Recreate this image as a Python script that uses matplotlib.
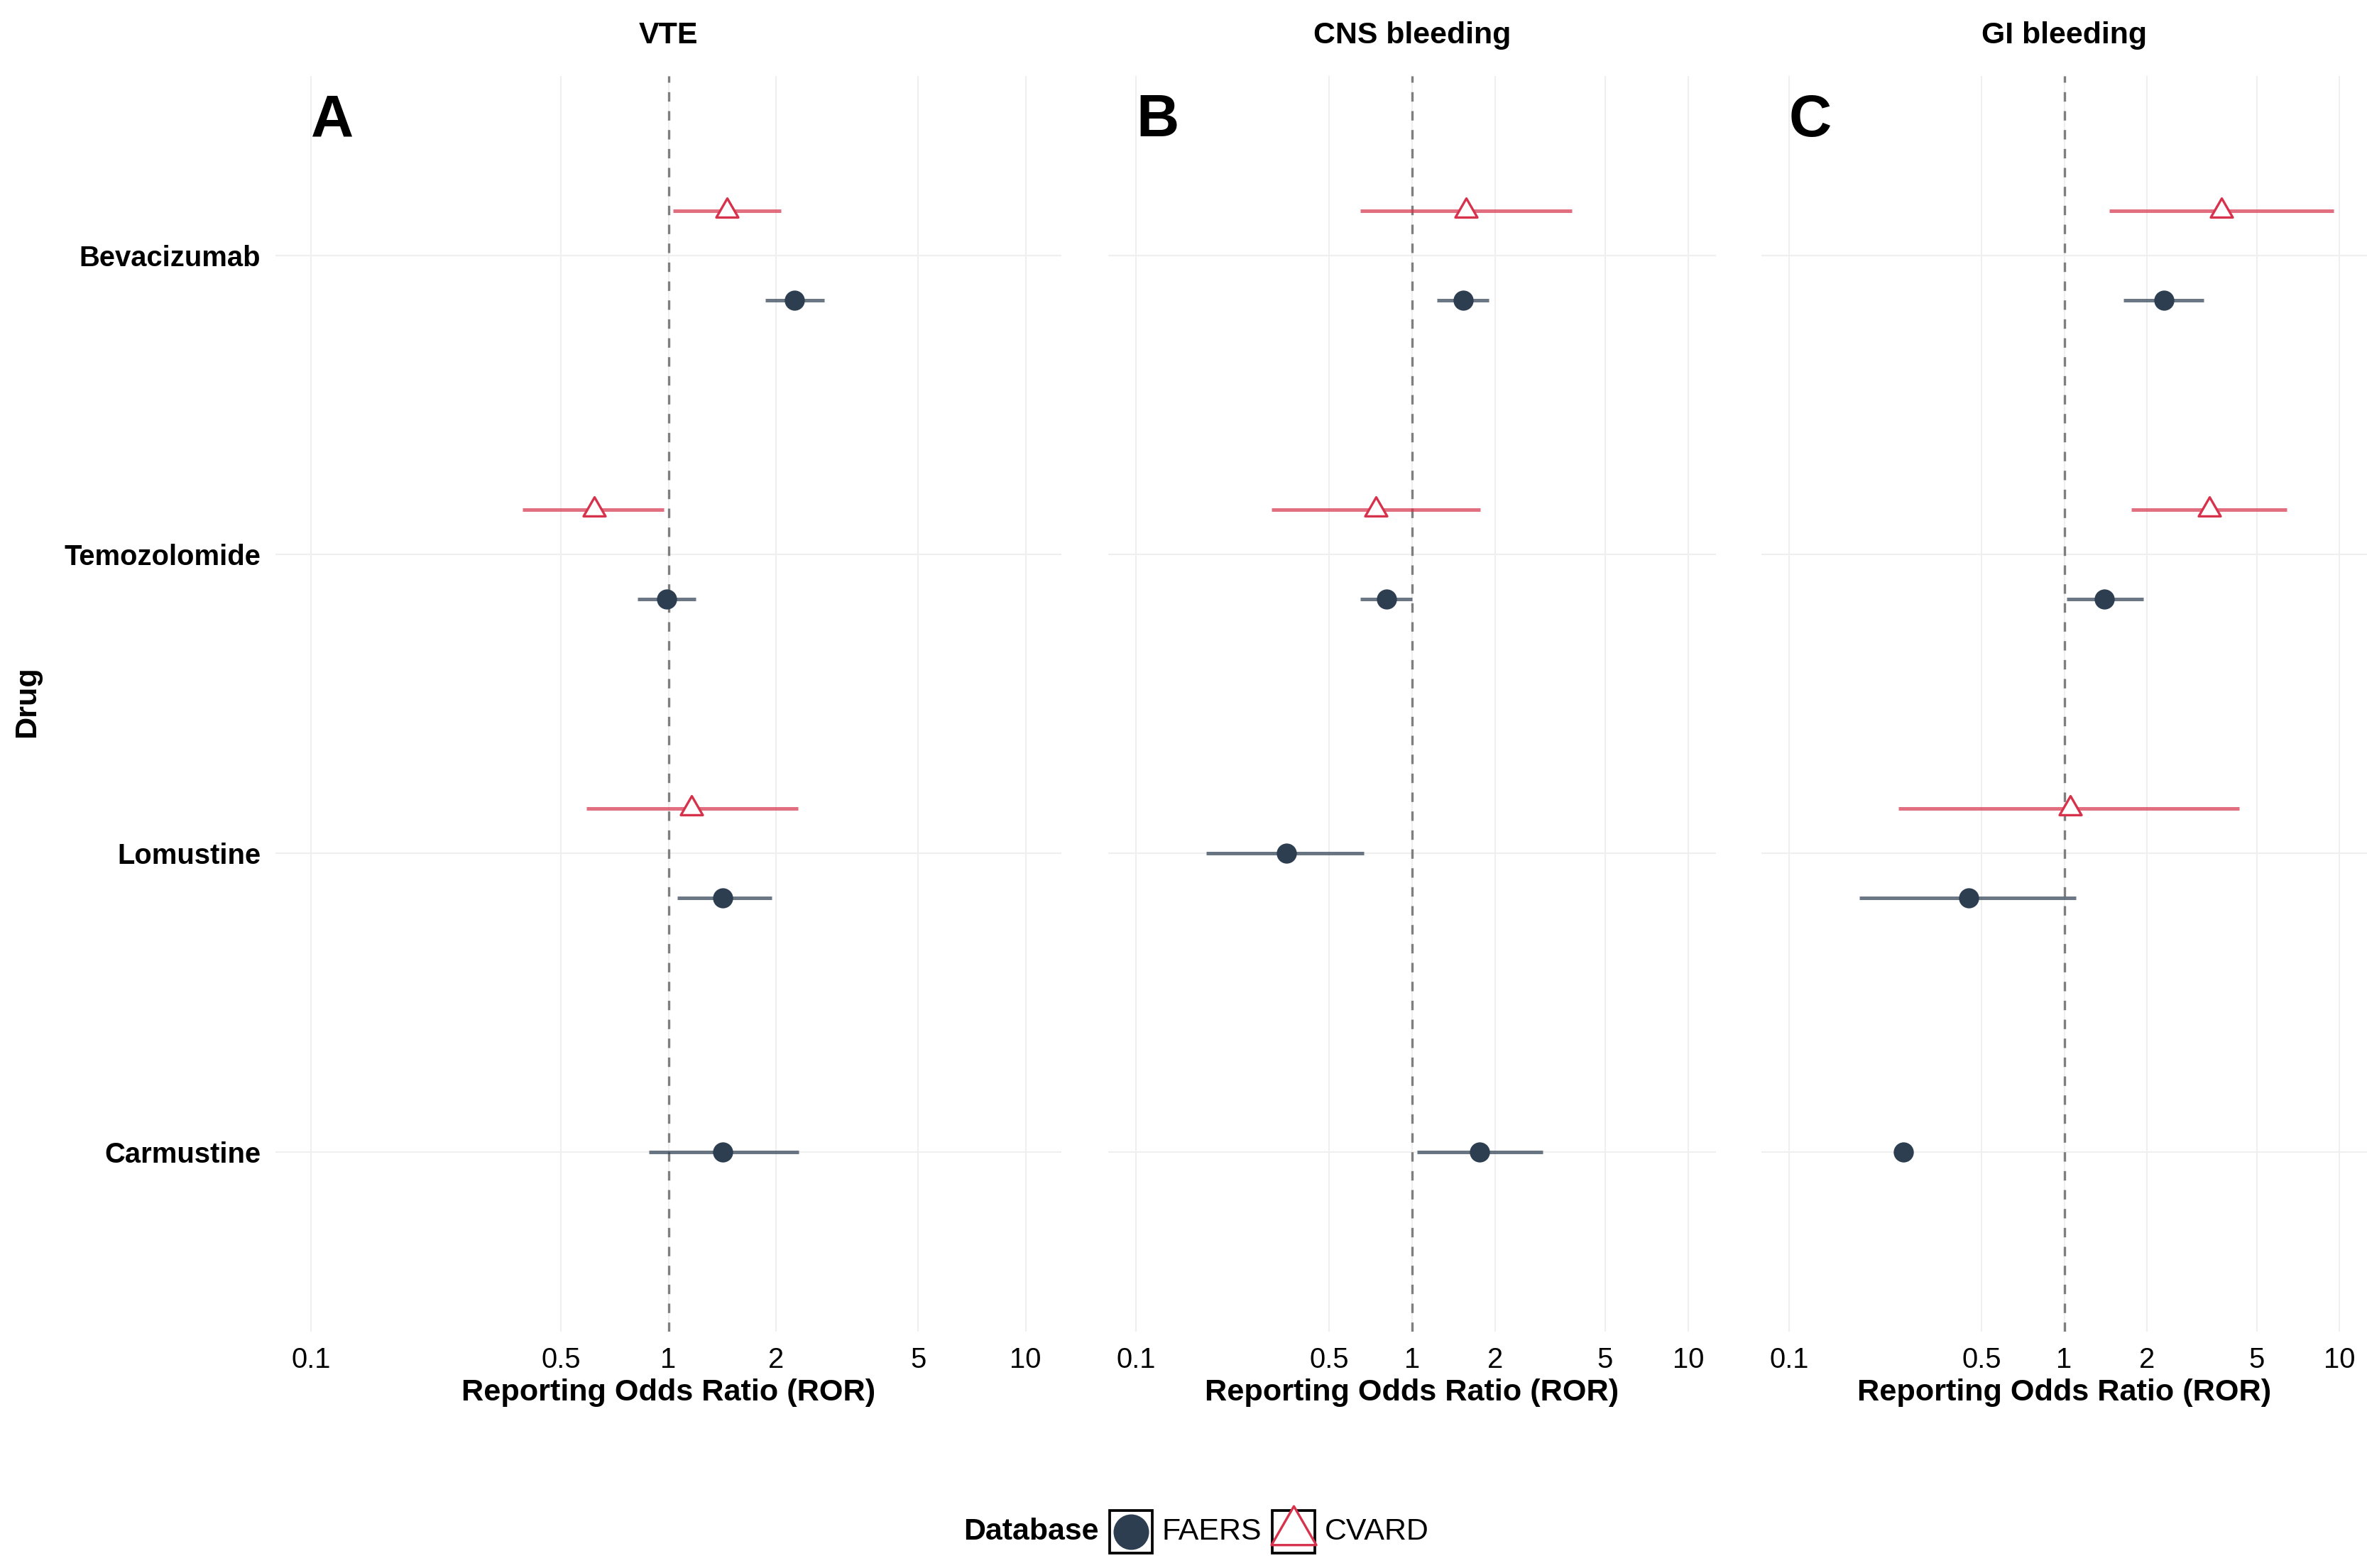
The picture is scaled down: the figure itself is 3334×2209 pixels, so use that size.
import numpy as np
import matplotlib
matplotlib.use('Agg')
import matplotlib.pyplot as plt
from matplotlib.lines import Line2D
from matplotlib.patches import Rectangle
from matplotlib.path import Path
import matplotlib.transforms as mtransforms

plt.rcParams['font.family'] = ['Liberation Sans', 'DejaVu Sans']

# Data (ROR with 95% CI), rows = outcome, columns = drug
drugs = ['Bevacizumab', 'Temozolomide', 'Lomustine', 'Carmustine']
outcomes = ['VTE', 'CNS bleeding', 'GI bleeding']
panel_tags = ['A', 'B', 'C']
nan = np.nan

faers_ror = [[2.25, 0.99, 1.42, 1.42],
             [1.53, 0.81, 0.35, 1.75],
             [2.30, 1.40, 0.45, 0.26]]
faers_lo = [[1.87, 0.82, 1.06, 0.88],
            [1.23, 0.65, 0.18, 1.04],
            [1.64, 1.02, 0.18, nan]]
faers_hi = [[2.73, 1.19, 1.95, 2.32],
            [1.89, 1.00, 0.67, 2.97],
            [3.21, 1.94, 1.10, nan]]

cvard_ror = [[1.46, 0.62, 1.16, nan],
             [1.57, 0.74, nan, nan],
             [3.72, 3.36, 1.05, nan]]
cvard_lo = [[1.03, 0.39, 0.59, nan],
            [0.65, 0.31, nan, nan],
            [1.46, 1.75, 0.25, nan]]
cvard_hi = [[2.07, 0.97, 2.30, nan],
            [3.78, 1.76, nan, nan],
            [9.51, 6.43, 4.32, nan]]

xticks = [0.1, 0.5, 1, 2, 5, 10]
xtick_labels = ['0.1', '0.5', '1', '2', '5', '10']

faers_col = '#2C3E50'
cvard_col = '#D7324B'

# triangle centred on its centroid, like ggplot's shape 2
tri = Path([(0, 0.667), (-0.577, -0.333), (0.577, -0.333), (0, 0.667)],
           [Path.MOVETO, Path.LINETO, Path.LINETO, Path.CLOSEPOLY])

W, H = 3334, 2209
fig = plt.figure(figsize=(W / 300, H / 300), dpi=300)

panel_x = [(388, 1495), (1561, 2417), (2481, 3334)]
top, bottom = 107, 1876
ypos = np.arange(len(drugs))[::-1] + 1
dodge = 0.15

for i, name in enumerate(outcomes):
    x0, x1 = panel_x[i]
    ax = fig.add_axes([x0 / W, 1 - bottom / H, (x1 - x0) / W, (bottom - top) / H])
    ax.set_xscale('log')
    ax.set_xlim(10 ** -1.1, 10 ** 1.1)
    ax.set_ylim(0.4, 4.6)
    ax.set_xticks(xticks)
    ax.set_xticklabels(xtick_labels)
    ax.xaxis.set_minor_locator(matplotlib.ticker.NullLocator())
    ax.set_yticks(ypos)
    if i == 0:
        ax.set_yticklabels(drugs, fontsize=10.4, fontweight='bold')
    else:
        ax.set_yticklabels([])
    ax.tick_params(length=0, labelsize=9.6, pad=5)
    ax.tick_params(axis='y', pad=5)
    for s in ax.spines.values():
        s.set_visible(False)
    ax.grid(True, color='#EFEFEF', lw=0.5)
    ax.set_axisbelow(True)
    ax.axvline(1, color='#7F7F7F', ls=(0, (4, 4)), lw=0.8, zorder=1)

    for j in range(len(drugs)):
        has_f = not np.isnan(faers_ror[i][j])
        has_c = not np.isnan(cvard_ror[i][j])
        off = dodge if (has_f and has_c) else 0
        if has_c:
            yc = ypos[j] + off
            ax.hlines(yc, cvard_lo[i][j], cvard_hi[i][j], color=cvard_col, alpha=0.7, lw=1.2, zorder=2)
            ax.plot(cvard_ror[i][j], yc, marker=tri, ms=8.6, mfc='white', mec=cvard_col, mew=0.8, ls='none', zorder=4)
        if has_f:
            yf = ypos[j] - off
            if not np.isnan(faers_lo[i][j]):
                ax.hlines(yf, faers_lo[i][j], faers_hi[i][j], color=faers_col, alpha=0.7, lw=1.2, zorder=2)
            ax.plot(faers_ror[i][j], yf, marker='o', ms=5.8, color=faers_col, ls='none', zorder=4)

    ax.set_xlabel('Reporting Odds Ratio (ROR)', fontsize=10.4, fontweight='bold', labelpad=1.8)
    ax.text(0.5, 1 + 57 / (bottom - top), name, transform=ax.transAxes,
            ha='center', va='center', fontsize=10.3, fontweight='bold')
    trans = mtransforms.blended_transform_factory(ax.transData, ax.transAxes)
    ax.text(0.1, 1 - 85 / (bottom - top), panel_tags[i], transform=trans,
            ha='left', va='baseline', fontsize=20, fontweight='bold')

fig.text(38 / W, 1 - 989 / H, 'Drug', rotation=90, ha='center', va='center',
         fontsize=10.4, fontweight='bold')

# legend at the bottom
ly = 1 - 2158 / H
fig.text(1357 / W, ly, 'Database', ha='left', va='center', fontsize=10.3, fontweight='bold')
for bx, lab in [(1563, 'FAERS'), (1792, 'CVARD')]:
    fig.add_artist(Rectangle((bx / W, ly - 30 / H), 60 / W, 60 / H, fill=False,
                             ec='black', lw=0.9, transform=fig.transFigure))
    fig.text((bx + 74) / W, ly, lab, ha='left', va='center', fontsize=10.3)
fig.add_artist(Line2D([(1563 + 30) / W], [ly], marker='o', ms=11, color=faers_col,
                      transform=fig.transFigure))
fig.add_artist(Line2D([(1792 + 30) / W], [ly], marker=tri, ms=17.5, mfc='white',
                      mec=cvard_col, mew=0.8, transform=fig.transFigure))

fig.savefig('out.png', dpi=300)
